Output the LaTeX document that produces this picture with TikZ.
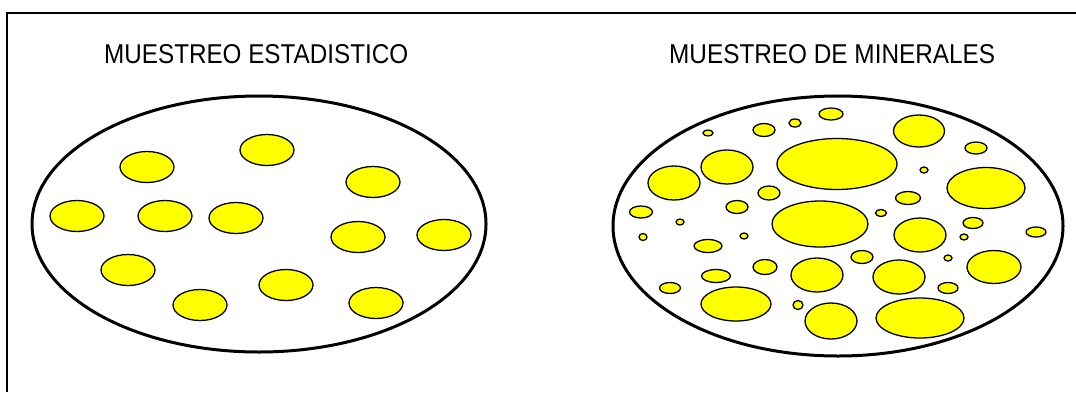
\documentclass[tikz,border=0pt]{standalone}
\usepackage{graphicx}
\usepackage{fontspec}
\setmainfont{Liberation Sans}
\definecolor{blobyellow}{HTML}{FFFF00}
\begin{document}
\begin{tikzpicture}[x=1pt,y=-1pt,
  blob/.style={draw=black,fill=blobyellow,line width=1.3pt},
  bigell/.style={draw=black,line width=3pt},
  frameline/.style={draw=black,line width=2pt},
  title/.style={inner sep=0pt,anchor=north west}]
\useasboundingbox (0,0) rectangle (1076,392);
\fill[white] (0,0) rectangle (1076,392);
% frame (top and left lines)
\coordinate (ftr) at (1076,13);
\coordinate (ftl) at (7,13);
\coordinate (fbl) at (7,392);
\draw[frameline] (ftr) -- (ftl) -- (fbl);
% titles
\node[title] (t1) at (104,44) {\resizebox{304pt}{19pt}{MUESTREO ESTADISTICO}};
\node[title] (t2) at (669,44) {\resizebox{326pt}{19pt}{MUESTREO DE MINERALES}};
% left population
\draw[bigell] (259,224) ellipse [x radius=227, y radius=128];
\foreach \x/\y in {147/167, 267/150, 373/182, 77/216, 165/216, 236/218,
                   358/237, 444/235, 128/270, 200/305, 286/285, 376/303}
  \draw[blob] (\x,\y) ellipse [x radius=27, y radius=15.5];
% right population
\draw[bigell] (838,226) ellipse [x radius=225, y radius=130];
\foreach \x/\y/\a/\b in {831/114/12/6, 795/123/6/4, 764/130/11/6.5, 708/133/5/3,
   919/131/25.5/16, 976/148/11/6, 837/164/60/25.5, 727/167/26/17, 674/183/26/17,
   924/170/4/3, 986/188/39/20.5, 769/193/11/7, 908/198/12.5/6.5, 737/207/11/6.5,
   641/212/11.5/6, 881/213/5.5/3.5, 820/224/48/23, 680/222/4/3, 973/223/10/5.5,
   920/235/26/17, 1036/232/10/5, 643/237/4/3.5, 744/236/4/3, 964/237/4/3,
   708/246/14/6.5, 862/257/11/6.5, 948/258/4/3, 765/267/12/7.5, 817/275/26/17,
   899/277/26/17, 994/267/27/16.5, 716/276/14.5/6.5, 670/288/10.5/5.5,
   948/288/10/5.5, 736/304/35/17, 798/305/5/4.5, 831/321/26/18, 920/318/44/20}
  \draw[blob] (\x,\y) ellipse [x radius=\a, y radius=\b];
\end{tikzpicture}
\end{document}
